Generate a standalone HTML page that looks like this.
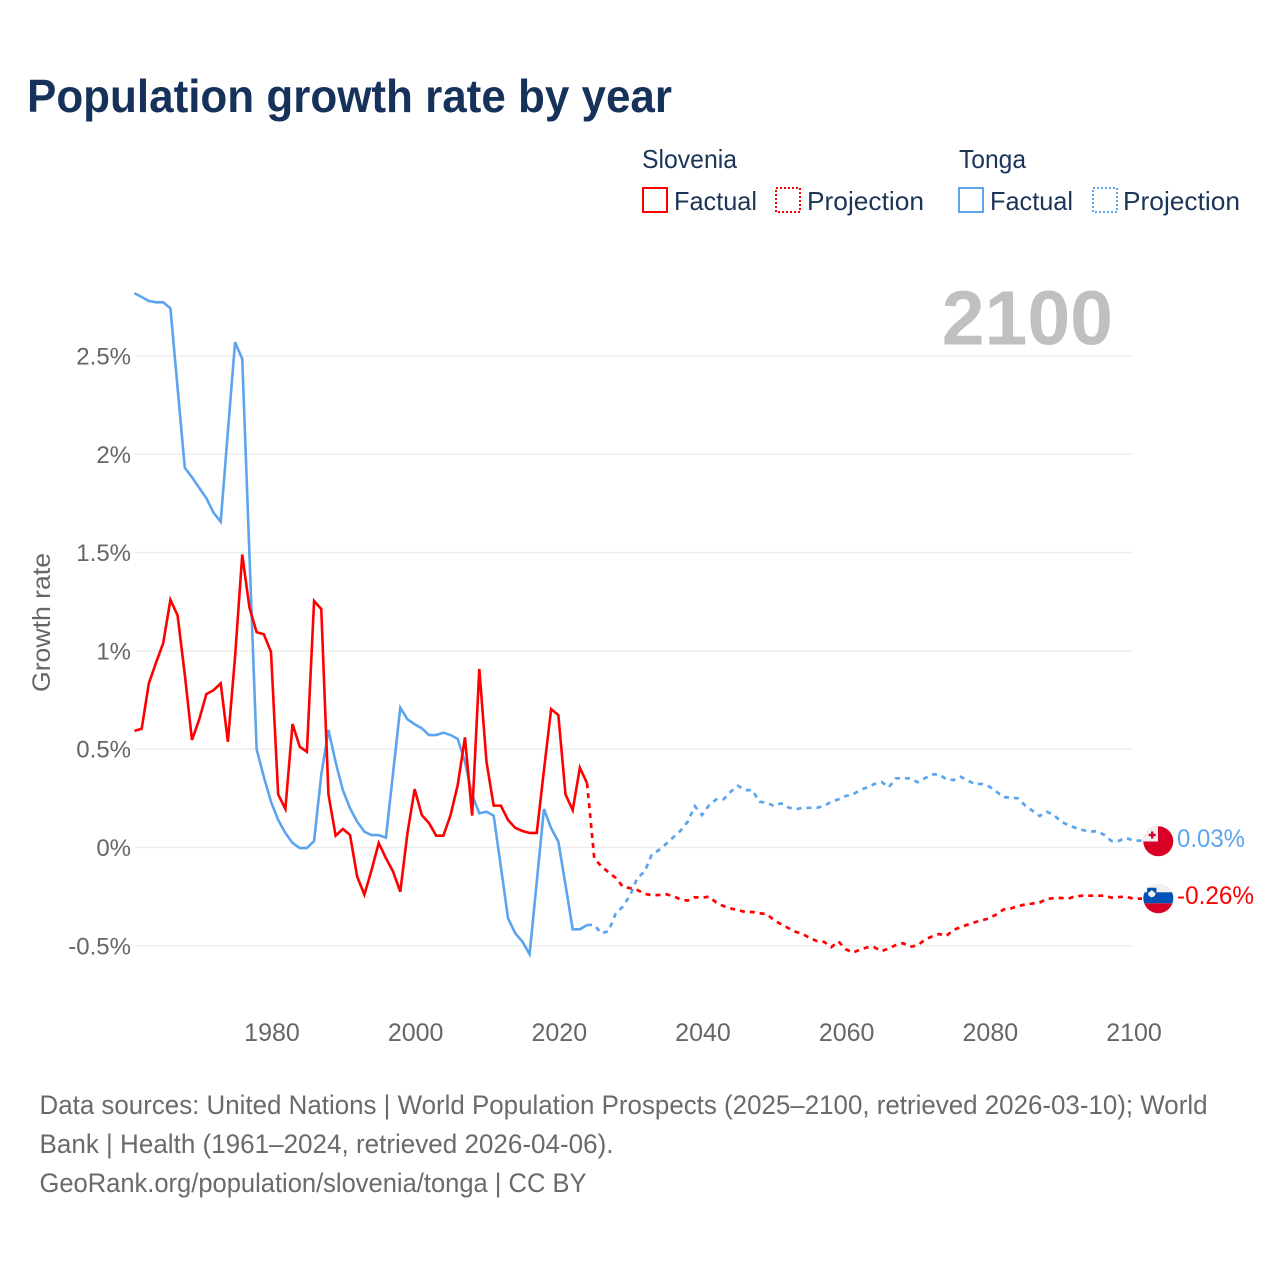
<!DOCTYPE html>
<html lang="en">
<head>
<meta charset="utf-8">
<title>Population growth rate by year</title>
<style>
html,body{margin:0;padding:0;background:#fff;width:1280px;height:1280px;overflow:hidden}
svg{display:block;font-family:"Liberation Sans",sans-serif}
</style>
</head>
<body>
<svg id="chart" width="1280" height="1280" viewBox="0 0 1280 1280" xmlns="http://www.w3.org/2000/svg">
  <defs>
    <clipPath id="clip-tonga"><circle id="clip-tonga-circle" cx="1158.3" cy="841.3" r="15"/></clipPath>
    <clipPath id="clip-slovenia"><circle id="clip-slovenia-circle" cx="1158.3" cy="898.3" r="15"/></clipPath>
  </defs>
  <rect width="1280" height="1280" fill="#fff"/>
  <text x="27" y="112" font-size="46" font-weight="700" fill="#17325a" textLength="645" lengthAdjust="spacingAndGlyphs">Population growth rate by year</text>

  <g font-size="26" fill="#1c3557">
    <text x="642" y="168" textLength="95" lengthAdjust="spacingAndGlyphs">Slovenia</text>
    <text x="959" y="168" textLength="67" lengthAdjust="spacingAndGlyphs">Tonga</text>
    <rect x="643" y="188" width="24" height="24" fill="none" stroke="#ff0000" stroke-width="2" shape-rendering="crispEdges"/>
    <text x="674" y="210" textLength="83" lengthAdjust="spacingAndGlyphs">Factual</text>
    <rect x="776" y="188" width="24" height="24" fill="none" stroke="#ff0000" stroke-width="2" stroke-dasharray="2 2" shape-rendering="crispEdges"/>
    <text x="807" y="210" textLength="117" lengthAdjust="spacingAndGlyphs">Projection</text>
    <rect x="959" y="188" width="24" height="24" fill="none" stroke="#5ca5ee" stroke-width="2" shape-rendering="crispEdges"/>
    <text x="990" y="210" textLength="83" lengthAdjust="spacingAndGlyphs">Factual</text>
    <rect x="1093" y="188" width="24" height="24" fill="none" stroke="#5ca5ee" stroke-width="2" stroke-dasharray="2 2" shape-rendering="crispEdges"/>
    <text x="1123" y="210" textLength="117" lengthAdjust="spacingAndGlyphs">Projection</text>
  </g>

  <text x="1113" y="344.5" text-anchor="end" font-size="77" font-weight="700" fill="#c0c0c0">2100</text>
  <text transform="translate(50,622.5) rotate(-90)" text-anchor="middle" font-size="25" fill="#666" textLength="139" lengthAdjust="spacingAndGlyphs">Growth rate</text>

  <g id="grid"></g>
  <g id="y-ticks" font-size="24" fill="#666" text-anchor="end"></g>
  <g id="x-ticks" font-size="25" fill="#666" text-anchor="middle"></g>
  <g id="series"></g>

  <g id="flag-tonga">
    <g clip-path="url(#clip-tonga)">
      <rect x="1143" y="826" width="31" height="31" fill="#d80027"/>
      <rect x="1143" y="826" width="15" height="15.5" fill="#f0f0f0"/>
      <rect x="1151" y="831.5" width="2.4" height="7" fill="#d80027"/>
      <rect x="1148.7" y="833.8" width="7" height="2.4" fill="#d80027"/>
    </g>
  </g>
  <g id="flag-slovenia">
    <g clip-path="url(#clip-slovenia)">
      <rect x="1143" y="883" width="31" height="10" fill="#f0f0f0"/>
      <rect x="1143" y="892.3" width="31" height="11" fill="#0052b4"/>
      <rect x="1143" y="903.3" width="31" height="11" fill="#d80027"/>
      <path d="M1147.2 887.8h9.2v6q0 3-4.6 4.5q-4.6-1.5-4.6-4.5z" fill="#0052b4"/>
      <path d="M1148 893.2l2-1.6 1.8-1.6 1.8 1.6 2 1.6q0 3-3.8 4.2q-3.8-1.2-3.8-4.2z" fill="#f0f0f0"/>
    </g>
  </g>
  <text id="end-label-tonga" x="1177" y="847" font-size="25" fill="#5ca5ee" textLength="68" lengthAdjust="spacingAndGlyphs"></text>
  <text id="end-label-slovenia" x="1177" y="904" font-size="25" fill="#ff0000" textLength="77" lengthAdjust="spacingAndGlyphs"></text>

  <g font-size="27" fill="#6a6a6a">
    <text x="39.5" y="1114" textLength="1168" lengthAdjust="spacingAndGlyphs">Data sources: United Nations | World Population Prospects (2025–2100, retrieved 2026-03-10); World</text>
    <text x="39.5" y="1153" textLength="574" lengthAdjust="spacingAndGlyphs">Bank | Health (1961–2024, retrieved 2026-04-06).</text>
    <text x="39.5" y="1192" textLength="547" lengthAdjust="spacingAndGlyphs">GeoRank.org/population/slovenia/tonga | CC BY</text>
  </g>
</svg>
<script>
const factualStartYear = 1961;
const projectionStartYear = 2025;
const xTickYears = [1980, 2000, 2020, 2040, 2060, 2080, 2100];
const yTickValues = [-0.5, 0, 0.5, 1, 1.5, 2, 2.5];
const yTickLabels = ["-0.5%", "0%", "0.5%", "1%", "1.5%", "2%", "2.5%"];

const sloveniaFactual = [0.593,0.604,0.835,0.94,1.04,1.26,1.18,0.88,0.547,0.65,0.78,0.80,0.835,0.538,0.97,1.49,1.22,1.095,1.085,0.995,0.27,0.196,0.628,0.513,0.487,1.254,1.213,0.27,0.06,0.094,0.064,-0.148,-0.24,-0.115,0.023,-0.054,-0.123,-0.225,0.074,0.297,0.165,0.124,0.06,0.06,0.165,0.318,0.56,0.162,0.908,0.436,0.213,0.213,0.14,0.10,0.084,0.074,0.074,0.394,0.704,0.674,0.27,0.19,0.406,0.327];
const sloveniaProjection = [-0.054,-0.097,-0.126,-0.155,-0.2,-0.207,-0.216,-0.236,-0.242,-0.242,-0.238,-0.247,-0.264,-0.27,-0.253,-0.255,-0.25,-0.28,-0.298,-0.31,-0.318,-0.328,-0.328,-0.335,-0.338,-0.369,-0.39,-0.41,-0.428,-0.44,-0.46,-0.476,-0.48,-0.507,-0.478,-0.517,-0.535,-0.52,-0.508,-0.508,-0.527,-0.513,-0.496,-0.487,-0.505,-0.498,-0.47,-0.453,-0.44,-0.45,-0.42,-0.405,-0.392,-0.38,-0.37,-0.36,-0.34,-0.315,-0.31,-0.298,-0.29,-0.285,-0.28,-0.262,-0.257,-0.257,-0.26,-0.248,-0.245,-0.245,-0.245,-0.245,-0.255,-0.252,-0.25,-0.26];
const tongaFactual = [2.819,2.80,2.78,2.773,2.773,2.743,2.337,1.932,1.883,1.83,1.777,1.703,1.657,2.115,2.57,2.485,1.49,0.5,0.36,0.233,0.14,0.074,0.023,-0.003,-0.003,0.033,0.369,0.598,0.434,0.292,0.2,0.131,0.08,0.063,0.063,0.05,0.38,0.711,0.652,0.627,0.606,0.572,0.572,0.584,0.572,0.552,0.436,0.267,0.174,0.182,0.162,-0.098,-0.36,-0.436,-0.479,-0.542,-0.174,0.196,0.098,0.03,-0.19,-0.416,-0.416,-0.394];
const tongaProjection = [-0.394,-0.437,-0.425,-0.335,-0.30,-0.242,-0.155,-0.123,-0.037,-0.013,0.018,0.052,0.085,0.131,0.21,0.165,0.216,0.245,0.245,0.284,0.314,0.292,0.292,0.233,0.228,0.211,0.225,0.204,0.194,0.202,0.202,0.202,0.211,0.233,0.245,0.262,0.27,0.292,0.306,0.323,0.333,0.306,0.352,0.352,0.352,0.332,0.352,0.372,0.372,0.348,0.343,0.36,0.34,0.323,0.323,0.31,0.284,0.255,0.255,0.25,0.213,0.187,0.16,0.182,0.165,0.131,0.114,0.10,0.089,0.08,0.084,0.064,0.033,0.033,0.05,0.035];
const endLabelTonga = "0.03%";
const endLabelSlovenia = "-0.26%";

const SVG_NS = "http://www.w3.org/2000/svg";
function xScale(year) { return 134.5 + (year - 1961) * (1133 - 134.5) / 139; }
function yScale(value) { return 847.5 - value * 196.6; }

const gridGroup = document.getElementById("grid");
const yTickGroup = document.getElementById("y-ticks");
const xTickGroup = document.getElementById("x-ticks");
const seriesGroup = document.getElementById("series");

yTickValues.forEach(function (value, i) {
  const line = document.createElementNS(SVG_NS, "line");
  
  
  line.setAttribute("x1", 135);
  line.setAttribute("x2", 1133);
  line.setAttribute("y1", yScale(value));
  line.setAttribute("y2", yScale(value));
  line.setAttribute("stroke", "#eeeeee");
  line.setAttribute("stroke-width", 1.6);
  gridGroup.appendChild(line);

  const label = document.createElementNS(SVG_NS, "text");
  
  
  label.setAttribute("x", 131);
  label.setAttribute("y", yScale(value) + 8.5);
  label.textContent = yTickLabels[i];
  yTickGroup.appendChild(label);
});

xTickYears.forEach(function (year) {
  const label = document.createElementNS(SVG_NS, "text");
  
  
  label.setAttribute("x", xScale(year) + 1);
  label.setAttribute("y", 1041);
  label.textContent = String(year);
  xTickGroup.appendChild(label);
});

function pointsFor(values, startYear, prefix, suffix) {
  const pts = [];
  if (prefix) { pts.push(prefix); }
  values.forEach(function (value, i) {
    pts.push(xScale(startYear + i).toFixed(2) + "," + yScale(value).toFixed(2));
  });
  if (suffix) { pts.push(suffix); }
  return pts.join(" ");
}

function drawFactual(values, color, name) {
  const line = document.createElementNS(SVG_NS, "polyline");
  
  
  line.setAttribute("points", pointsFor(values, factualStartYear));
  line.setAttribute("fill", "none");
  line.setAttribute("stroke", color);
  line.setAttribute("stroke-width", 2.6);
  line.setAttribute("stroke-linejoin", "miter");
  seriesGroup.appendChild(line);
}

function drawProjection(values, lastFactual, color, name) {
  const startPoint = xScale(projectionStartYear - 1).toFixed(2) + "," + yScale(lastFactual).toFixed(2);
  const lastValue = values[values.length - 1];
  const endPoint = "1142," + yScale(lastValue).toFixed(2);
  const line = document.createElementNS(SVG_NS, "polyline");
  
  
  line.setAttribute("points", pointsFor(values, projectionStartYear, startPoint, endPoint));
  line.setAttribute("fill", "none");
  line.setAttribute("stroke", color);
  line.setAttribute("stroke-width", 2.7);
  line.setAttribute("stroke-dasharray", "5 5");
  seriesGroup.appendChild(line);
}

drawFactual(tongaFactual, "#5ca5ee", "tonga-factual-line");
drawProjection(tongaProjection, tongaFactual[tongaFactual.length - 1], "#5ca5ee", "tonga-projection-line");
drawFactual(sloveniaFactual, "#ff0000", "slovenia-factual-line");
drawProjection(sloveniaProjection, sloveniaFactual[sloveniaFactual.length - 1], "#ff0000", "slovenia-projection-line");

document.getElementById("end-label-tonga").textContent = endLabelTonga;
document.getElementById("end-label-slovenia").textContent = endLabelSlovenia;
</script>
</body>
</html>
